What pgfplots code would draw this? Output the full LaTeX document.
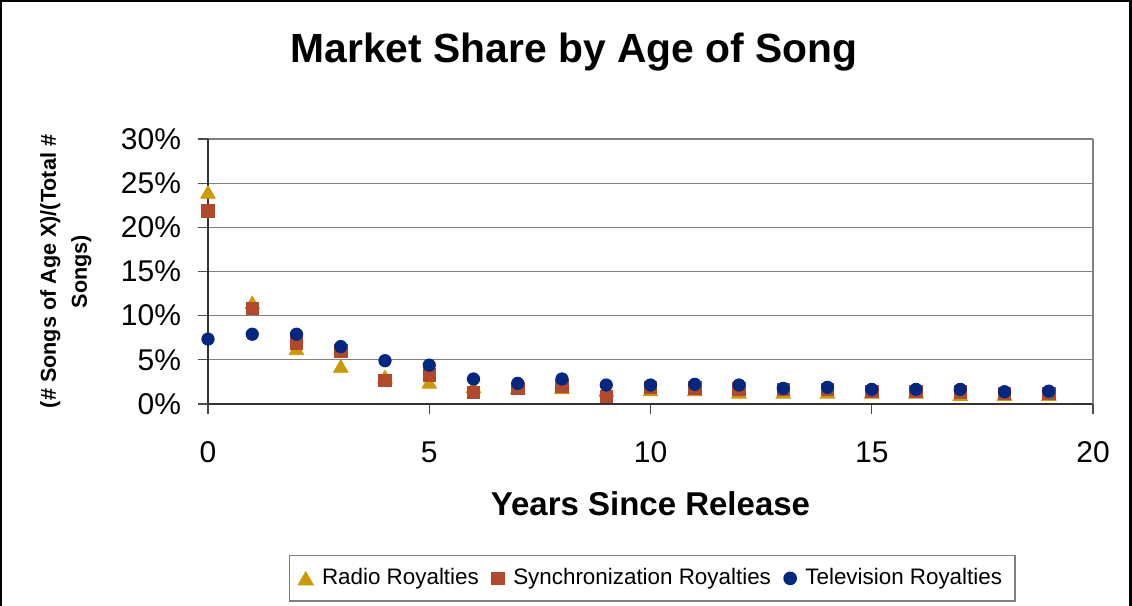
\documentclass[border=0pt]{standalone}
\usepackage{fontspec}
\setmainfont{Liberation Sans}
\usepackage{pgfplots}
\pgfplotsset{compat=1.18}
\definecolor{radio}{RGB}{204,153,0}
\definecolor{sync}{RGB}{178,72,44}
\definecolor{tv}{RGB}{0,40,130}
\definecolor{gridc}{RGB}{128,128,128}
\begin{document}
\begin{tikzpicture}
\path[use as bounding box] (0,0) rectangle (566bp,303bp);
\draw[line width=1.2bp] (0.6bp,-2bp) -- (0.6bp,302.4bp) -- (565.2bp,302.4bp) -- (565.2bp,-2bp);
\node[anchor=base, font=\fontsize{20.4bp}{24bp}\selectfont\bfseries] at (287bp,271.5bp) {Market Share by Age of Song};
\begin{axis}[
  at={(104bp,101bp)}, anchor=south west,
  scale only axis, width=442.5bp, height=132.5bp,
  xmin=0, xmax=20, ymin=0, ymax=0.30,
  axis lines*=left,
  axis line style={-, black!80, line width=1bp},
  xtick={0,5,10,15,20}, xticklabels={0,5,10,15,20},
  ytick={0,0.05,0.1,0.15,0.2,0.25,0.3},
  yticklabels={0\%,5\%,10\%,15\%,20\%,25\%,30\%},
  tick align=outside, major tick length=5bp,
  tick style={black!70, line width=0.6bp},
  ymajorgrids, grid style={gridc, line width=0.6bp},
  ticklabel style={font=\fontsize{15bp}{18bp}\selectfont},
  xticklabel style={yshift=-10.5bp},
  yticklabel style={xshift=-5bp},
  xlabel={Years Since Release},
  xlabel style={at={(axis description cs:0.5,0)}, anchor=base, yshift=-55.5bp,
    font=\fontsize{16.5bp}{20bp}\selectfont\bfseries},
  ylabel={(\# Songs of Age X)/(Total \#\\Songs)},
  ylabel style={at={(axis description cs:-0.1605,0.5)}, anchor=center, align=center,
    font=\fontsize{10.8bp}{15.5bp}\selectfont\bfseries},
  clip=false,
  legend columns=-1,
  legend style={at={(0.502,-0.658)}, anchor=center, draw=gridc, line width=0.6bp,
    inner ysep=4.5bp, inner xsep=4.5bp,
    font=\fontsize{11.2bp}{13.5bp}\selectfont,
    /tikz/every odd column/.append style={column sep=2.5bp},
    /tikz/every even column/.append style={column sep=4.5bp}},
  legend image code/.code={\draw[mark repeat=2, mark phase=2, #1] plot coordinates {(0bp,0bp) (4bp,0bp) (8bp,0bp)};},
]
\addplot[only marks, mark=triangle*, mark size=4.2bp, color=radio, mark options={draw=radio, fill=radio, yshift=-1.05bp}] coordinates {
(0,0.240) (1,0.115) (2,0.063) (3,0.043) (4,0.031) (5,0.025) (6,0.020) (7,0.0187) (8,0.0187) (9,0.016)
(10,0.0164) (11,0.0164) (12,0.0138) (13,0.0138) (14,0.0138) (15,0.0138) (16,0.0138) (17,0.011) (18,0.011) (19,0.011)};
\addlegendentry{Radio Royalties}
\addplot[only marks, mark=square*, mark size=3.1bp, color=sync, mark options={draw=sync, fill=sync}] coordinates {
(0,0.2187) (1,0.108) (2,0.0693) (3,0.060) (4,0.0264) (5,0.033) (6,0.0128) (7,0.0177) (8,0.0203) (9,0.0083)
(10,0.0189) (11,0.0181) (12,0.017) (13,0.0162) (14,0.0165) (15,0.0145) (16,0.0145) (17,0.0139) (18,0.0121) (19,0.0121)};
\addlegendentry{Synchronization Royalties}
\addplot[only marks, mark=*, mark size=3.1bp, color=tv, mark options={draw=tv, fill=tv}] coordinates {
(0,0.0735) (1,0.079) (2,0.079) (3,0.065) (4,0.049) (5,0.044) (6,0.0283) (7,0.0234) (8,0.0283) (9,0.0215)
(10,0.0215) (11,0.0223) (12,0.0215) (13,0.0177) (14,0.0189) (15,0.0166) (16,0.0166) (17,0.0166) (18,0.0139) (19,0.0145)};
\addlegendentry{Television Royalties}
\draw[gridc, line width=0.6bp] (rel axis cs:1,0) -- (rel axis cs:1,1);
\end{axis}
\end{tikzpicture}
\end{document}
